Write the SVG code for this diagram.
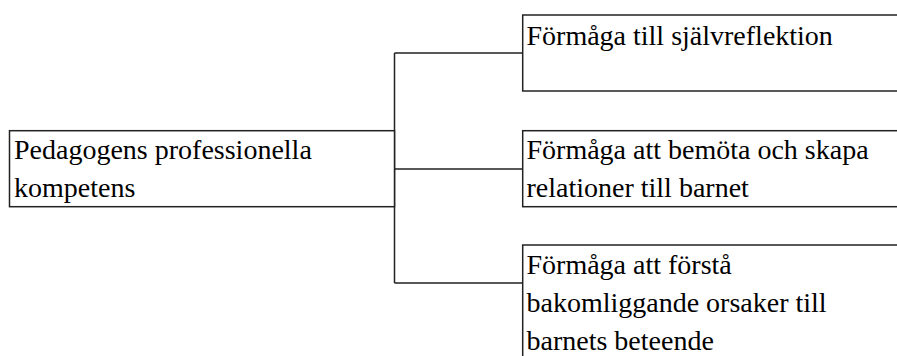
<svg xmlns="http://www.w3.org/2000/svg" width="897" height="356" viewBox="0 0 897 356">
<style>
.box{fill:#fff;stroke:#222;stroke-width:1.5}
.con{fill:none;stroke:#222;stroke-width:1.5}
.t{font-size:28px;fill:#000}
</style>
<rect width="897" height="356" fill="#fff"/>
<g id="connectors">
<path class="con" d="M394.5 53 V283 M394.5 53 H522.7 M394.5 169 H522.7 M394.5 283 H522.7"/>
</g>
<g font-family="'Liberation Serif', serif">
<g id="root">
<rect class="box" x="9.5" y="130.7" width="385" height="76"/>
<text class="t" x="14" y="159">Pedagogens professionella</text>
<text class="t" x="14" y="197">kompetens</text>
</g>
<g id="n1">
<rect class="box" x="522.7" y="15" width="400" height="76"/>
<text class="t" x="526.5" y="44.5">Förmåga till självreflektion</text>
</g>
<g id="n2">
<rect class="box" x="522.7" y="130.7" width="400" height="76"/>
<text class="t" x="526.5" y="159">Förmåga att bemöta och skapa</text>
<text class="t" x="526.5" y="197">relationer till barnet</text>
</g>
<g id="n3">
<rect class="box" x="522.7" y="245" width="400" height="200"/>
<text class="t" x="526.5" y="273.5">Förmåga att förstå</text>
<text class="t" x="526.5" y="311.5">bakomliggande orsaker till</text>
<text class="t" x="526.5" y="349.5">barnets beteende</text>
</g>
</g>
</svg>
